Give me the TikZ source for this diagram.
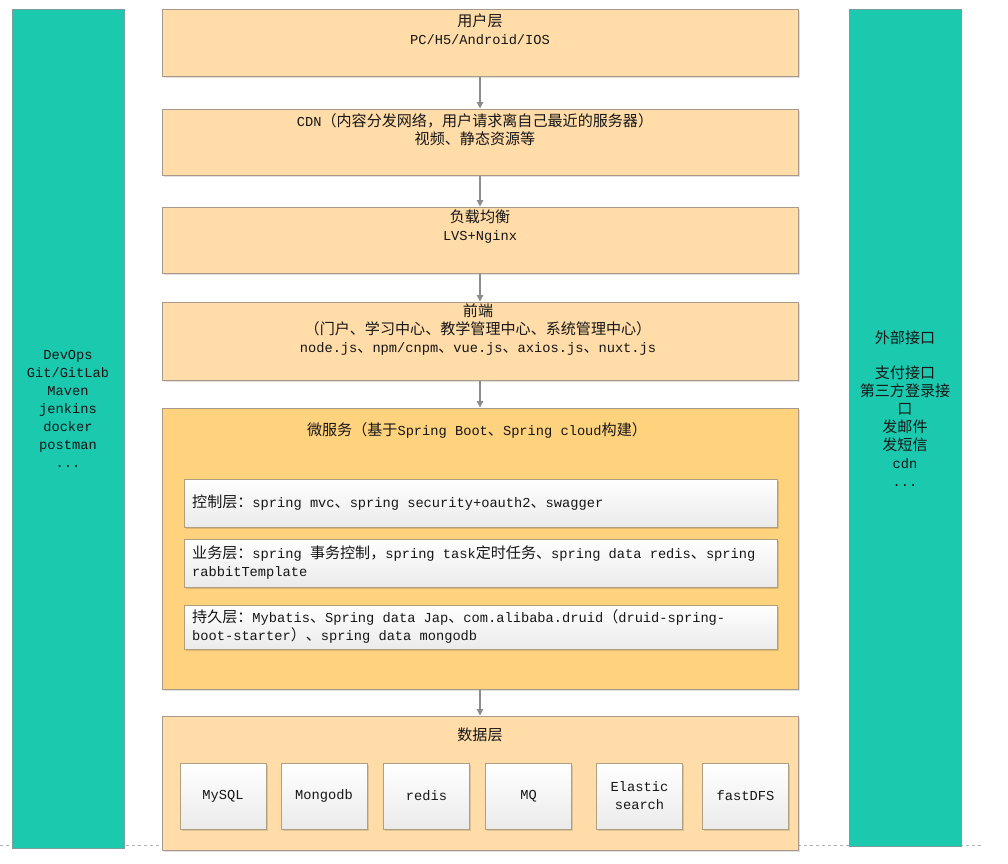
\documentclass[tikz,border=0pt]{standalone}
\usepackage{fontspec}
\setmainfont{Liberation Mono}
\newfontfamily\zhfont{Noto Sans CJK SC}[Scale=1.1]
\newcommand\zh[1]{{\zhfont #1}}
\usetikzlibrary{arrows.meta,shadows}
\definecolor{boxfill}{HTML}{FFDCA8}
\definecolor{microfill}{HTML}{FFD27D}
\definecolor{boxline}{HTML}{A8998A}
\definecolor{tealfill}{HTML}{1BC9AF}
\definecolor{tealline}{HTML}{7A9E9A}
\definecolor{innerline}{HTML}{B09E80}
\definecolor{arrowc}{HTML}{8C8C8C}
\definecolor{txt}{HTML}{161616}
\begin{document}
\begin{tikzpicture}[x=1pt,y=-1pt,
  font=\fontsize{13.7}{18}\selectfont, text=txt,
  shad/.style={drop shadow={shadow xshift=1.5pt,shadow yshift=-1.5pt,fill=black,opacity=0.12}},
  layer/.style={draw=boxline, line width=1pt, fill=boxfill, minimum width=636pt, inner sep=0pt, shad},
  micro/.style={layer, fill=microfill},
  tealbar/.style={draw=tealline, line width=1pt, fill=tealfill, minimum width=112pt, inner sep=0pt},
  inner/.style={draw=innerline, line width=1pt, top color=white, bottom color=black!8, minimum width=593pt, inner sep=0pt, shad},
  store/.style={draw=innerline, line width=1pt, top color=white, bottom color=black!8, minimum width=86pt, minimum height=66pt, inner sep=0pt, align=center, shad},
  label/.style={inner sep=0pt, align=center},
  arr/.style={draw=arrowc, line width=1.2pt, -{Triangle[length=6.5pt,width=6.5pt]}},
  guide/.style={draw=black!30, line width=0.6pt, dashed}
]
\useasboundingbox[fill=white] (0,0) rectangle (1008,863);

% faint guide line
\coordinate (gl) at (0,845);
\coordinate (gr) at (981,845);
\draw[guide] (gl) -- (gr);

% side bars
\node[tealbar, minimum height=839pt] (left) at (68,428.5) {};
\node[tealbar, minimum height=837pt] (right) at (905,427.5) {};

\node[label, anchor=north] (lefttxt) at (68,350) {DevOps\\Git/GitLab\\Maven\\jenkins\\docker\\postman\\...};
\node[label, anchor=north, font=\fontsize{13.7}{18}\zhfont] (righttxt) at (905,331) {外部接口\\[17pt]支付接口\\第三方登录接\\口\\发邮件\\发短信\\{\rmfamily cdn}\\{\rmfamily ...}};

% layers
\node[layer, minimum height=67pt] (b1) at (480,42.5) {};
\node[layer, minimum height=66pt] (b2) at (480,142) {};
\node[layer, minimum height=66pt] (b3) at (480,240) {};
\node[layer, minimum height=78pt] (b4) at (480,341) {};
\node[micro, minimum height=281pt] (b5) at (480,548.5) {};
\node[layer, minimum height=134pt] (b6) at (480,783) {};

\node[label, anchor=north] (t1) at (480,14) {\zh{用户层}\\PC/H5/Android/IOS};
\node[label, anchor=north] (t2) at (475,113) {CDN\zh{（内容分发网络，用户请求离自己最近的服务器）}\\\zh{视频、静态资源等}};
\node[label, anchor=north] (t3) at (480,210) {\zh{负载均衡}\\LVS+Nginx};
\node[label, anchor=north] (t4) at (478,304) {\zh{前端}\\\zh{（门户、学习中心、教学管理中心、系统管理中心）}\\node.js\zh{、}npm/cnpm\zh{、}vue.js\zh{、}axios.js\zh{、}nuxt.js};
\node[label, anchor=north] (t5) at (477,422) {\zh{微服务（基于}Spring Boot\zh{、}Spring cloud\zh{构建）}};

% inner layers
\node[inner, minimum height=48pt] (i1) at (480.5,503) {};
\node[inner, minimum height=48pt] (i2) at (480.5,563) {};
\node[inner, minimum height=44pt] (i3) at (480.5,627) {};

\node[label, anchor=west] (ti1) at (192,503) {\zh{控制层：}spring mvc\zh{、}spring security+oauth2\zh{、}swagger};
\node[label, anchor=north west, align=left] (ti2) at (192,546) {\zh{业务层：}spring \zh{事务控制，}spring task\zh{定时任务、}spring data redis\zh{、}spring\\rabbitTemplate};
\node[label, anchor=north west, align=left] (ti3) at (192,609) {\zh{持久层：}Mybatis\zh{、}Spring data Jap\zh{、}com.alibaba.druid\zh{（}druid-spring-\\boot-starter\zh{）、}spring data mongodb};

% data layer
\node[label, anchor=north] (t6) at (480,728) {\zh{数据层}};
\node[store] (s1) at (223,796) {MySQL};
\node[store] (s2) at (324,796) {Mongodb};
\node[store] (s3) at (426.5,796) {redis};
\node[store] (s4) at (528.5,796) {MQ};
\node[store] (s5) at (639.5,796) {Elastic\\search};
\node[store] (s6) at (745.5,796) {fastDFS};

% arrows
\draw[arr] (b1.south) -- (b2.north);
\draw[arr] (b2.south) -- (b3.north);
\draw[arr] (b3.south) -- (b4.north);
\draw[arr] (b4.south) -- (b5.north);
\draw[arr] (b5.south) -- (b6.north);
\end{tikzpicture}
\end{document}
